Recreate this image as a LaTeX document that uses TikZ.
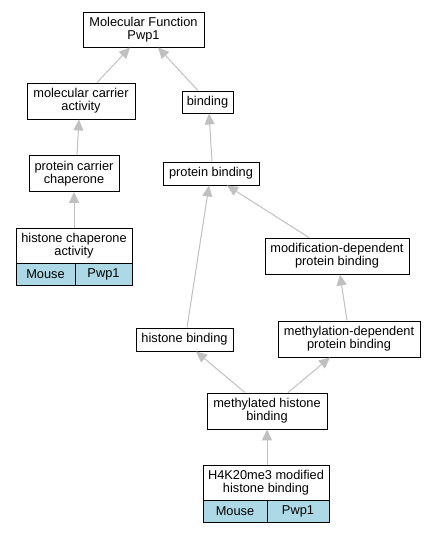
\documentclass[tikz,border=0pt]{standalone}
\usepackage{fontspec}
\setmainfont{Liberation Sans}
\usetikzlibrary{arrows.meta}
\definecolor{edgegray}{HTML}{C0C0C0}
\definecolor{cellblue}{HTML}{ADD8E6}
\tikzset{
  term/.style={draw=black, line width=0.9pt, fill=white, inner sep=0pt, align=center,
    font=\fontsize{12.8}{13.3}\selectfont},
  cell/.style={term, fill=cellblue, minimum height=22pt},
  isa/.style={draw=edgegray, line width=1pt, -{Triangle[length=11pt,width=10pt]}}
}
\begin{document}
\begin{tikzpicture}[x=1pt,y=-1pt]
\useasboundingbox (0,0) rectangle (436,533);
% nodes
\node[term, minimum width=121pt, minimum height=35pt] (mf) at (143.5,29.5) {Molecular Function\\Pwp1};
\node[term, minimum width=108pt, minimum height=36pt] (mca) at (81,101) {molecular carrier\\activity};
\node[term, minimum width=51pt, minimum height=22pt] (bind) at (207.5,102) {binding};
\node[term, minimum width=90pt, minimum height=36pt] (pcc) at (74,173.5) {protein carrier\\chaperone};
\node[term, minimum width=96pt, minimum height=23pt] (pb) at (211,173.5) {protein binding};
\node[term, minimum width=116pt, minimum height=35pt] (hca) at (74,245.5) {histone chaperone\\activity};
\node[cell, minimum width=59pt] (hcam) at (45.5,274) {Mouse};
\node[cell, minimum width=57pt] (hcap) at (103.5,274) {Pwp1};
\node[term, minimum width=144pt, minimum height=36pt] (mdp) at (337,256) {modification-dependent\\protein binding};
\node[term, minimum width=97pt, minimum height=23pt] (hb) at (184.5,339.5) {histone binding};
\node[term, minimum width=142pt, minimum height=36pt] (medp) at (349,339) {methylation-dependent\\protein binding};
\node[term, minimum width=120pt, minimum height=36pt] (mhb) at (267,411) {methylated histone\\binding};
\node[term, minimum width=126pt, minimum height=36pt] (h4) at (266,483) {H4K20me3 modified\\histone binding};
\node[cell, minimum width=64pt] (h4m) at (235,511.5) {Mouse};
\node[cell, minimum width=62pt] (h4p) at (298,511.5) {Pwp1};
% edges
\draw[isa] ([xshift=16pt]mca.north) -- ([xshift=-13.5pt]mf.south);
\draw[isa] ([xshift=-9.5pt]bind.north) -- ([xshift=14.5pt]mf.south);
\draw[isa] ([xshift=3pt]pcc.north) -- ([xshift=-2pt]mca.south);
\draw[isa] ([xshift=1pt]pb.north) -- ([xshift=1.5pt]bind.south);
\draw[isa] (hca.north) -- (pcc.south);
\draw[isa] ([xshift=2.5pt]hb.north) -- ([xshift=-2pt]pb.south);
\draw[isa] ([xshift=-28pt]mdp.north) -- ([xshift=16pt]pb.south);
\draw[isa] ([xshift=-2pt]medp.north) -- ([xshift=3pt]mdp.south);
\draw[isa] ([xshift=-22pt]mhb.north) -- ([xshift=11.5pt]hb.south);
\draw[isa] ([xshift=21pt]mhb.north) -- ([xshift=-19pt]medp.south);
\draw[isa] ([xshift=1pt]h4.north) -- ([xshift=0pt]mhb.south);
\end{tikzpicture}
\end{document}
